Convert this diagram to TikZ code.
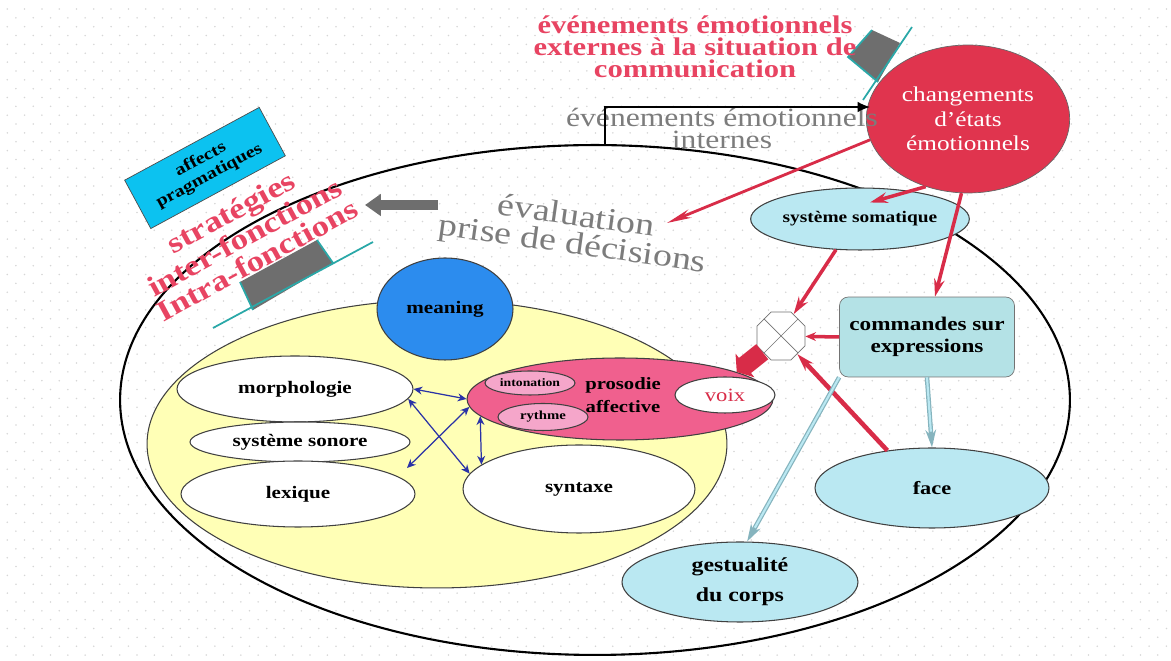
\documentclass[tikz,border=0pt]{standalone}
\usepackage{fontspec}
\setmainfont{Liberation Serif}[FakeStretch=1.2]
\usetikzlibrary{shapes.geometric,arrows.meta,calc,positioning}

\definecolor{evred}{HTML}{E84462}
\definecolor{chgred}{HTML}{E0344E}
\definecolor{arrred}{HTML}{D82C48}
\definecolor{prospink}{HTML}{F0608E}
\definecolor{lightpink}{HTML}{F5A6CA}
\definecolor{meanblue}{HTML}{2C8CEE}
\definecolor{paleyellow}{HTML}{FFFFB6}
\definecolor{palecyan}{HTML}{BAE8F2}
\definecolor{cmdcyan}{HTML}{B4E2E6}
\definecolor{affcyan}{HTML}{0CC2F0}
\definecolor{tabteal}{HTML}{2AA8A8}
\definecolor{tabgray}{HTML}{6E6E6E}
\definecolor{txtgray}{HTML}{7C7C7C}
\definecolor{linkblue}{HTML}{2A32A6}
\definecolor{dotgray}{HTML}{D6D6D6}
\definecolor{cyanedge}{HTML}{86B4BE}

\begin{document}
\begin{tikzpicture}[x=0.02cm,y=-0.02cm,
    oval/.style={ellipse,draw=black!75,line width=0.6pt,fill=white,inner sep=0pt},
    lbl/.style={font=\fontsize{10}{12}\selectfont\bfseries},
    redarrow/.style={draw=arrred,line width=2pt,-{Stealth[length=10pt,width=6pt]}},
    bluearrow/.style={draw=linkblue,line width=0.7pt,{Stealth[length=5pt,width=4.5pt]}-{Stealth[length=5pt,width=4.5pt]}},
    cyanarrow/.style={draw=cyanedge,line width=2.6pt,-{Stealth[length=10pt,width=6pt]},
        postaction={draw=palecyan,line width=1.2pt,-,shorten >=9pt}}]
 \useasboundingbox (0,0) rectangle (1171,661);

%Dotted paper
 \foreach \j in {0,...,37}
    \foreach \i in {0,...,67}
       {\fill[dotgray] (7.3+17.3*\i,9+17.7*\j) circle[radius=0.5pt];
        \fill[dotgray] (15.95+17.3*\i,17.85+17.7*\j) circle[radius=0.5pt];}

%Outer ellipse
 \node[ellipse,draw,line width=1.2pt,minimum width=19cm,minimum height=10.2cm] (big) at (595,400) {};

%Grey tabs
 \fill[tabgray] (240,282) -- (317,240) -- (333,263) -- (253,310) -- cycle;
 \draw[tabteal,line width=1pt] (213,328) -- (373,242) (240,282) -- (253,310) (317,240) -- (333,263);
 \fill[tabgray] (872,30) -- (900,43) -- (878,82) -- (848,57) -- cycle;
 \draw[tabteal,line width=1pt] (863,100) -- (912,27) (872,30) -- (848,57) -- (878,82);

%Language part
 \node[oval,fill=paleyellow,minimum width=11.6cm,minimum height=5.76cm] (yel) at (437,444) {};
 \node[oval,lbl,fill=meanblue,minimum width=2.72cm,minimum height=2.04cm] (mean) at (445,309) {meaning};
 \node[oval,lbl,minimum width=4.72cm,minimum height=1.32cm] (morph) at (295,389) {morphologie};
 \node[oval,lbl,minimum width=4.4cm,minimum height=0.8cm] (sono) at (300,442) {système sonore};
 \node[oval,lbl,minimum width=4.68cm,minimum height=1.32cm] (lex) at (298,494) {lexique};
 \node[oval,lbl,minimum width=4.64cm,minimum height=1.76cm] (syn) at (579,489) {syntaxe};

%Prosody
 \node[oval,fill=prospink,minimum width=6.12cm,minimum height=1.64cm] (pros) at (620,399) {};
 \node[lbl,align=center,font=\fontsize{9.8}{13.5}\selectfont\bfseries] (proslbl) at (623,395) {prosodie\\affective};
 \node[oval,fill=lightpink,minimum width=1.8cm,minimum height=0.48cm,font=\fontsize{6.5}{7}\selectfont\bfseries] (inton) at (530,383) {intonation};
 \node[oval,fill=lightpink,minimum width=1.8cm,minimum height=0.54cm,font=\fontsize{7}{8}\selectfont\bfseries] (ryth) at (543,417) {rythme};
 \node[oval,minimum width=2cm,minimum height=0.72cm,text=arrred,font=\fontsize{10.7}{12}\selectfont] (voix) at (725,395) {voix};

%Emotion part
 \node[regular polygon,regular polygon sides=8,draw=black!55,fill=white,minimum size=1.04cm,inner sep=0pt] (oct) at (781,336) {};
 \draw[black!55] (oct.135) -- (oct.-45) (oct.45) -- (oct.-135);
 \node[rectangle,rounded corners=5pt,draw=black!55,fill=cmdcyan,minimum width=3.5cm,minimum height=1.6cm,align=center,font=\fontsize{11}{12.5}\selectfont\bfseries] (cmd) at (927,337) {commandes sur\\expressions};
 \node[ellipse,draw=black!60,fill=chgred,minimum width=3.48cm,minimum height=2.96cm,text=white,align=center,font=\fontsize{12}{14}\selectfont] (chg) at (968,119) {changements\\d’états\\émotionnels};
 \node[oval,fill=palecyan,minimum width=3.52cm,minimum height=1.24cm,font=\fontsize{9.2}{11}\selectfont\bfseries] (soma) at (860,219) {système somatique};
 \node[oval,lbl,fill=palecyan,minimum width=4.68cm,minimum height=1.6cm,font=\fontsize{10.6}{12}\selectfont\bfseries] (face) at (932,488) {face};
 \node[oval,fill=palecyan,minimum width=4.72cm,minimum height=1.6cm,align=center,font=\fontsize{11.3}{17}\selectfont\bfseries] (gest) at (740,582) {gestualité\\du corps};

%Pragmatics
 \node[rectangle,draw=black!70,fill=affcyan,minimum width=3.06cm,minimum height=1.1cm,rotate=28.4,align=center,font=\fontsize{9.5}{10.5}\selectfont\bfseries] (aff) at (205,168) {affects\\pragmatiques};
 \node[rotate=28.6,align=center,text=evred,font=\fontsize{16.5}{15}\selectfont\bfseries] (strat) at (244,236) {stratégies\\inter-fonctions\\Intra-fonctions};

%Texts
 \node[align=center,text=evred,font=\fontsize{14.5}{12.5}\selectfont\bfseries] (ext) at (695,47) {événements émotionnels\\externes à la situation de\\communication};
 \node[align=center,text=txtgray,font=\fontsize{15}{12.5}\selectfont] (int) at (722,128) {événements émotionnels\\internes};
 \node[rotate=-8,align=center,text=txtgray,font=\fontsize{18}{16}\selectfont] (eval) at (574,232) {évaluation\\prise de décisions};

 \coordinate (evaltip) at (667,223);
 \coordinate (intend) at (870,107);
 \coordinate (gasrc) at (438,205);
 \coordinate (gadst) at (365,205);
 \coordinate (bluept) at (407,468);

%Arrows
 \draw[line width=0.9pt,-{Latex[length=7pt,width=6pt]}] ([xshift=0.2cm]big.north) |- (intend);
 \draw[line width=5.5pt,tabgray,-{Triangle[length=9pt,width=12pt]}] (gasrc) -- (gadst);
 \draw[redarrow,line width=1.6pt,-{Stealth[length=14pt,width=5pt]}] (chg.192) -- (evaltip);
 \draw[redarrow] (chg.238) -- ([xshift=0.2cm,yshift=-0.3cm]soma.north);
 \draw[redarrow] (chg.265) -- ([xshift=0.16cm]cmd.north);
 \draw[redarrow] (soma.232) -- (oct.60);
 \draw[redarrow,-{Stealth[length=6pt,width=5pt]}] (cmd.west) -- (oct);
 \draw[redarrow,line width=2.6pt] (face.140) -- (oct.-48);
 \draw[arrred,line width=11pt,-{Triangle[length=6pt,width=17pt]}] (oct.-140) -- (pros.13);
 \draw[cyanarrow] (cmd.south) -- (face.north);
 \draw[cyanarrow] (cmd.south west) -- (gest.80);

 \draw[bluearrow] (morph.east) -- (pros.west);
 \draw[bluearrow] (morph.-5) -- (syn.172);
 \draw[bluearrow] (pros.183) -- (bluept);
 \draw[bluearrow] (pros.187) -- (syn.166);
\end{tikzpicture}
\end{document}
